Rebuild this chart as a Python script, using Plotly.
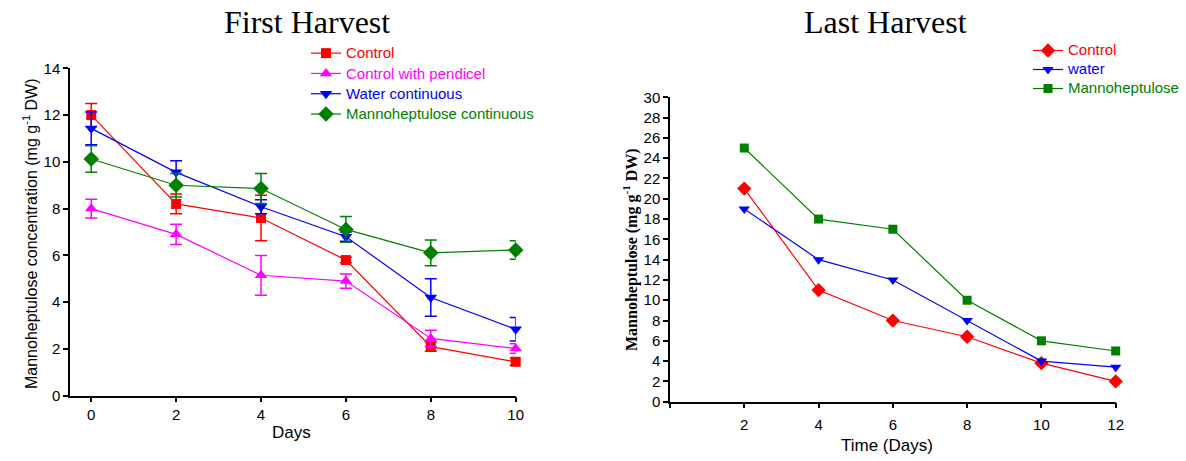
import plotly.graph_objects as go

# ---- First harvest data (mean ± error) ----
days_first = [0, 2, 4, 6, 8, 10]
control = [12.0, 8.2, 7.6, 5.8, 2.1, 1.45]
control_err = [0.5, 0.42, 0.97, 0.12, 0.2, 0.15]
pendicel = [8.0, 6.9, 5.15, 4.9, 2.45, 2.02]
pendicel_err = [0.4, 0.43, 0.85, 0.3, 0.35, 0.2]
water_cont = [11.43, 9.55, 8.08, 6.8, 4.2, 2.84]
water_cont_err = [0.7, 0.5, 0.3, 0.2, 0.8, 0.5]
manno_cont = [10.12, 9.0, 8.86, 7.11, 6.11, 6.23]
manno_cont_err = [0.57, 0.5, 0.64, 0.55, 0.55, 0.4]

# ---- Last harvest data ----
days_last = [2, 4, 6, 8, 10, 12]
last_control = [21, 11, 8, 6.4, 3.8, 2]
last_water = [19, 14, 12, 8, 4, 3.4]
last_manno = [25, 18, 17, 10, 6, 5]

RED = "#ff0000"
MAGENTA = "#ff00ff"
BLUE = "#0000ff"
GREEN = "#008000"
SANS = "Arial, Liberation Sans, sans-serif"
SERIF = "Times New Roman, Liberation Serif, serif"

W, H = 1186, 461


def px_x(p):
    return p / W


def px_y(p):
    return (H - p) / H


def label(name, color, size=15):
    return f"<span style='color:{color};font-size:{size}px'>{name}</span>"


fig = go.Figure()


def first_trace(name, y, err, color, symbol, size):
    fig.add_trace(go.Scatter(
        x=days_first, y=y, name=label(name, color),
        mode="lines+markers", cliponaxis=False,
        line=dict(color=color, width=1.2),
        marker=dict(color=color, symbol=symbol, size=size),
        error_y=dict(type="data", array=err, color=color, thickness=1.5, width=6),
        xaxis="x", yaxis="y", legend="legend",
    ))


first_trace("Control", control, control_err, RED, "square", 10)
first_trace("Control with pendicel", pendicel, pendicel_err, MAGENTA, "triangle-up", 11)
first_trace("Water continuous", water_cont, water_cont_err, BLUE, "triangle-down", 11)
first_trace("Mannoheptulose continuous", manno_cont, manno_cont_err, GREEN, "diamond", 12)


def last_trace(name, y, color, symbol, size):
    fig.add_trace(go.Scatter(
        x=days_last, y=y, name=label(name, color),
        mode="lines+markers", cliponaxis=False,
        line=dict(color=color, width=1.2),
        marker=dict(color=color, symbol=symbol, size=size),
        xaxis="x2", yaxis="y2", legend="legend2",
    ))


last_trace("Control", last_control, RED, "diamond", 11)
last_trace("water", last_water, BLUE, "triangle-down", 10)
last_trace("Mannoheptulose", last_manno, GREEN, "square", 9)

axis_common = dict(
    showline=True, linecolor="black", linewidth=1.5, ticks="outside",
    ticklen=5, tickwidth=1.5, tickcolor="black", showgrid=False, zeroline=False,
    automargin=False,
    tickfont=dict(family=SANS, size=15, color="black"),
)

fig.update_layout(
    width=W, height=H, margin=dict(l=0, r=0, t=0, b=0, autoexpand=False),
    paper_bgcolor="white", plot_bgcolor="white",
    xaxis=dict(domain=[px_x(70), px_x(515.7)], range=[-0.5, 10],
               tickvals=days_first, anchor="y", ticklabelstandoff=0, **axis_common),
    yaxis=dict(domain=[px_y(395.7), px_y(68.3)], range=[0, 14],
               tickvals=list(range(0, 15, 2)), anchor="x", **axis_common),
    xaxis2=dict(domain=[px_x(670), px_x(1115.7)], range=[0, 12],
                tickvals=[0, 2, 4, 6, 8, 10, 12],
                ticktext=["", "2", "4", "6", "8", "10", "12"],
                anchor="y2", ticklabelstandoff=4, **axis_common),
    yaxis2=dict(domain=[px_y(401.7), px_y(97.3)], range=[0, 30],
                tickvals=list(range(0, 31, 2)), anchor="x2", **axis_common),
    legend=dict(x=px_x(306), y=px_y(38), xanchor="left", yanchor="top",
                font=dict(family=SANS, size=13.3), bgcolor="rgba(0,0,0,0)",
                tracegroupgap=0, itemwidth=30),
    legend2=dict(x=px_x(1028), y=px_y(36), xanchor="left", yanchor="top",
                 font=dict(family=SANS, size=12), bgcolor="rgba(0,0,0,0)",
                 tracegroupgap=0, itemwidth=30),
    showlegend=True,
)

annotations = [
    dict(text="First Harvest", x=px_x(307), y=px_y(22), font=dict(family=SERIF, size=32, color="black")),
    dict(text="Last Harvest", x=px_x(885), y=px_y(22), font=dict(family=SERIF, size=32, color="black")),
    dict(text="Mannoheptulose concentration (mg g<sup>-1</sup> DW)", x=px_x(30), y=px_y(234),
         textangle=-90, font=dict(family=SANS, size=16, color="black")),
    dict(text="Days", x=px_x(291), y=px_y(432), font=dict(family=SANS, size=17, color="black")),
    dict(text="<b>Mannoheptulose (mg g<sup>-1</sup> DW)</b>", x=px_x(630), y=px_y(250),
         textangle=-90, font=dict(family=SERIF, size=16, color="black")),
    dict(text="Time (Days)", x=px_x(887), y=px_y(445), font=dict(family=SANS, size=17, color="black")),
]
for a in annotations:
    a.update(xref="paper", yref="paper", showarrow=False, xanchor="center", yanchor="middle")
fig.update_layout(annotations=annotations)

fig.write_html("out.html")
